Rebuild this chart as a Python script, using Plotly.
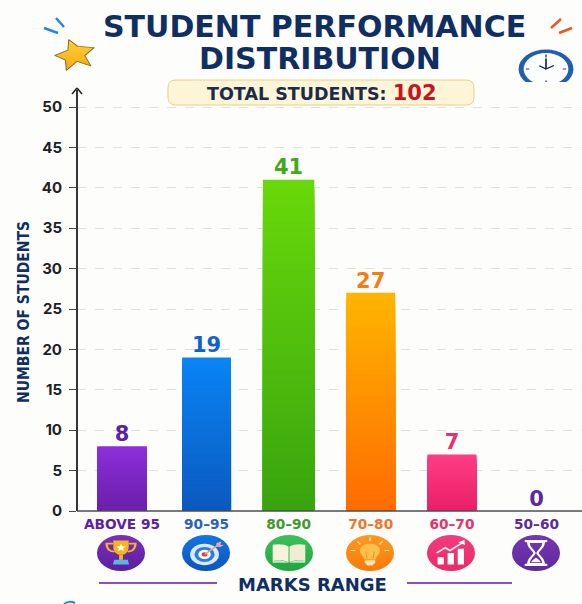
import base64
import plotly.graph_objects as go

categories = ["ABOVE 95", "90–95", "80–90", "70–80", "60–70", "50–60"]
counts = [8, 19, 41, 27, 7, 0]
y_ticks = [0, 5, 10, 15, 20, 25, 30, 35, 40, 45, 50]
x_positions = [0, 1.02, 2.01, 3.0, 3.98, 5.0]
label_colors = ["#5b21a6", "#2a62c0", "#3d9a2b", "#f5742a", "#ec2f6b", "#5b2a9e"]
value_colors = ["#5b21a6", "#0f62c8", "#43a81a", "#f57c12", "#ec2f6b", "#5b2a9e"]
top_colors = ["#8b2fdc", "#0a84f5", "#68d80a", "#ffb400", "#ff3d84", "#7a35c0"]
bottom_colors = ["#6a1fa8", "#0b58bd", "#38a30f", "#ff6a00", "#e81f68", "#5b2a9e"]
bar_widths = [0.60, 0.59, 0.62, 0.59, 0.59, 0.6]

W, H = 582, 604
NAVY = "#0f2f63"
FONT = "DejaVu Sans"
X0_PX, X1_PX = 77, 582
Y0_PX, YTOP_PX = 511, 90
PX_PER_CAT, CAT0_PX = 82.9, 122
PX_PER_UNIT = 8.08


def hexmix(a, b, t):
    pa = [int(a[i:i + 2], 16) for i in (1, 3, 5)]
    pb = [int(b[i:i + 2], 16) for i in (1, 3, 5)]
    return "#" + "".join(f"{round(p + (q - p) * t):02x}" for p, q in zip(pa, pb))


def px(x):
    return x / W


def py(y):
    return 1 - y / H


def svg(body, vb=100):
    s = f'<svg xmlns="http://www.w3.org/2000/svg" viewBox="0 0 {vb} {vb}" preserveAspectRatio="none">{body}</svg>'
    return "data:image/svg+xml;base64," + base64.b64encode(s.encode()).decode()


def grad_circle(c1, c2, inner):
    return svg(
        f'<defs><linearGradient id="g" x1="0" y1="0" x2="0" y2="1"><stop offset="0" stop-color="{c1}"/>'
        f'<stop offset="1" stop-color="{c2}"/></linearGradient></defs>'
        f'<ellipse cx="50" cy="50" rx="50" ry="50" fill="url(#g)"/>{inner}'
    )


trophy = ('<path d="M34 15h32v18c0 14-7 22-16 22s-16-8-16-22z" fill="#f7b51d"/>'
          '<path d="M34 24H20c0 14 7 21 16 22M66 24h14c0 14-7 21-16 22" fill="none" stroke="#f7b51d" stroke-width="5"/>'
          '<path d="M50 24l3 8h7l-6 5 3 8-7-5-7 5 3-8-6-5h7z" fill="#fff"/>'
          '<path d="M46 55h8v14h-8z" fill="#f7b51d"/><path d="M36 69h28l3 13H33z" fill="#58b6e8"/>')
target = ('<circle cx="47" cy="54" r="30" fill="#dbe9fb"/><circle cx="47" cy="54" r="21" fill="#2a7de0"/>'
          '<circle cx="47" cy="54" r="13" fill="#fff"/><circle cx="47" cy="54" r="6" fill="#e2343c"/>'
          '<path d="M47 54L76 27" stroke="#e8a08a" stroke-width="4"/><path d="M72 22l10-4-2 9 7 1-8 6-8-3z" fill="#f3a58d"/>')
book = ('<path d="M16 27c12-3 25-2 33 5v44c-8-6-21-7-33-4z" fill="#f8f4dc"/>'
        '<path d="M84 27c-12-3-25-2-33 5v44c8-6 21-7 33-4z" fill="#f0edd0"/>'
        '<path d="M16 72c12-3 25-2 34 6 9-8 22-9 34-6v5H16z" fill="#bfe8cc"/>')
bulb = ('<path d="M50 24c-13 0-21 9-21 20 0 9 7 13 9 24h24c2-11 9-15 9-24 0-11-8-20-21-20z" fill="#fdc04a"/>'
        '<path d="M44 66L41 46M56 66L59 46" stroke="#f28a12" stroke-width="2"/>'
        '<path d="M39 70h22v7l-6 8H45l-6-8z" fill="#fbe3b0"/>'
        '<path d="M50 7v10M24 18l6 8M76 18l-6 8M10 43h10M80 43h10" stroke="#fde3b3" stroke-width="3"/>')
chart = ('<path d="M22 62h13v20H22zM43 50h13v32H43zM64 38h13v44H64z" fill="#fff"/>'
         '<path d="M20 50l18-15 10 8 24-20" fill="none" stroke="#fff" stroke-width="4"/>'
         '<path d="M78 13l1 15-14-7z" fill="#fff"/>')
hourglass = ('<path d="M29 17h42M29 83h42" stroke="#fff" stroke-width="6" stroke-linecap="round"/>'
             '<path d="M34 20c0 16 10 20 13 30-3 10-13 14-13 30h32c0-16-10-20-13-30 3-10 13-14 13-30z" fill="none" stroke="#fff" stroke-width="5"/>'
             '<path d="M40 76c2-7 7-10 10-13 3 3 8 6 10 13z" fill="#fff"/>')
icons = [
    grad_circle("#7c2fbe", "#5a1f9c", trophy),
    grad_circle("#1176e6", "#0b55b8", target),
    grad_circle("#3cc15a", "#22a53e", book),
    grad_circle("#ff9a1f", "#f57a0a", bulb),
    grad_circle("#f23d7d", "#ea2a68", chart),
    grad_circle("#7436b4", "#5e2a9c", hourglass),
]
icon_cx = [121, 206, 289, 370, 451, 536]

star = svg('<defs><linearGradient id="s" x1="0" y1="0" x2="0" y2="1"><stop offset="0" stop-color="#ffd23a"/>'
           '<stop offset="1" stop-color="#f5a80f"/></linearGradient></defs>'
           '<path d="M36 2L58 23L98 27L75 52L90 84L56 70L30 98L28 66L2 51L34 35Z" fill="url(#s)" stroke="#8a6a20" stroke-width="2.5" stroke-linejoin="round"/>')
clock = svg('<circle cx="50" cy="50" r="49" fill="#1f5fae"/><circle cx="50" cy="50" r="40" fill="#fbfdff"/>'
            '<path d="M50 24v26l14-9M50 50l-12-8" stroke="#1c2b44" stroke-width="3" fill="none"/>'
            '<path d="M50 14v7M50 79v7M14 50h6M80 50h6" stroke="#33445f" stroke-width="2.5"/>')

fig = go.Figure()

# Gradient: nested overlaid bars from full height to nearly zero, each from the data values.
N = 40
for i in range(N):
    t = i / N
    fig.add_bar(
        x=x_positions,
        y=[c * (1 - t) for c in counts],
        width=bar_widths,
        marker=dict(color=[hexmix(a, b, t) for a, b in zip(top_colors, bottom_colors)], line_width=0),
        hoverinfo="skip",
        showlegend=False,
    )

fig.add_scatter(
    x=x_positions,
    y=counts,
    mode="text",
    text=[str(c) for c in counts],
    textposition="top center",
    textfont=dict(family=FONT, size=21, color=value_colors, weight=700),
    showlegend=False,
    cliponaxis=False,
)

images = [dict(source=s, xref="paper", yref="paper", x=px(cx - 24), y=py(535), sizex=48 / W, sizey=36 / H,
               sizing="stretch", xanchor="left", yanchor="top", layer="above")
          for s, cx in zip(icons, icon_cx)]
images.append(dict(source=star, xref="paper", yref="paper", x=px(54), y=py(39), sizex=41 / W, sizey=32 / H,
                   sizing="stretch", xanchor="left", yanchor="top", layer="above"))
images.append(dict(source=clock, xref="paper", yref="paper", x=px(518), y=py(49), sizex=56 / W, sizey=40 / H,
                   sizing="stretch", xanchor="left", yanchor="top", layer="below"))


def line(x0, y0, x1, y1, color, width, dash="solid"):
    return dict(type="line", xref="paper", yref="paper", x0=px(x0), y0=py(y0), x1=px(x1), y1=py(y1),
                line=dict(color=color, width=width, dash=dash), layer="above")


def pill(x0, y0, x1, y1, r, fill, edge):
    X0, X1, Y0, Y1 = px(x0), px(x1), py(y0), py(y1)
    rx, ry = r / W, r / H
    p = (f"M{X0 + rx},{Y0} L{X1 - rx},{Y0} Q{X1},{Y0} {X1},{Y0 - ry} L{X1},{Y1 + ry} Q{X1},{Y1} {X1 - rx},{Y1} "
         f"L{X0 + rx},{Y1} Q{X0},{Y1} {X0},{Y1 + ry} L{X0},{Y0 - ry} Q{X0},{Y0} {X0 + rx},{Y0} Z")
    return dict(type="path", xref="paper", yref="paper", path=p, fillcolor=fill, line=dict(color=edge, width=1),
                layer="above")


shapes = [
    dict(type="rect", xref="paper", yref="paper", x0=px(510), x1=1, y0=py(93), y1=py(82),
         fillcolor="#fdfdfb", line_width=0, layer="above"),
    line(44, 28, 58, 33, "#1e88e5", 2.5),
    line(56, 18, 64, 27, "#1e88e5", 2.5),
    line(551, 28, 561, 19, "#f4511e", 2.5),
    line(559, 33, 572, 28, "#f4511e", 2.5),
    pill(168, 80, 474, 105, 8, "#fdf5d8", "#edcf80"),
    line(99, 583, 217, 583, "#8a4fc0", 2),
    line(407, 583, 512, 583, "#8a4fc0", 2),
    line(X0_PX, Y0_PX, X0_PX, YTOP_PX, "#33363b", 2),
    line(X0_PX, Y0_PX, X1_PX, Y0_PX, "#4a4d52", 1.5),
    line(72, 94, 77, 88, "#222", 1.5),
    line(82, 94, 77, 88, "#222", 1.5),
    dict(type="path", xref="paper", yref="paper",
         path=f"M{px(64)},{py(604)} Q{px(69)},{py(600)} {px(75)},{py(603)}",
         line=dict(color="#1e88e5", width=2), layer="above"),
]

annotations = [
    dict(text="STUDENT PERFORMANCE", xref="paper", yref="paper", x=px(314), y=py(27), xanchor="center",
         yanchor="middle", showarrow=False, font=dict(family=FONT, size=30, color=NAVY, weight=700)),
    dict(text="DISTRIBUTION", xref="paper", yref="paper", x=px(320), y=py(58), xanchor="center",
         yanchor="middle", showarrow=False, font=dict(family=FONT, size=30, color=NAVY, weight=700)),
    dict(text='<span style="color:#1c2b4a">TOTAL STUDENTS:</span> <span style="color:#c4161c;font-size:21px">102</span>',
         xref="paper", yref="paper", x=px(322), y=py(93), xanchor="center", yanchor="middle", showarrow=False,
         font=dict(family=FONT, size=17.5, weight=700)),
    dict(text="MARKS RANGE", xref="paper", yref="paper", x=px(312), y=py(584), xanchor="center", yanchor="middle",
         showarrow=False, font=dict(family=FONT, size=18, color=NAVY, weight=700)),
    dict(text="NUMBER OF STUDENTS", xref="paper", yref="paper", x=px(24), y=py(312), xanchor="center",
         yanchor="middle", textangle=-90, showarrow=False,
         font=dict(family="DejaVu Sans Condensed, Roboto", size=15.5, color=NAVY, weight=700)),
]

fig.update_layout(
    width=W, height=H,
    margin=dict(l=0, r=0, t=0, b=0),
    paper_bgcolor="#fdfdfb",
    plot_bgcolor="rgba(0,0,0,0)",
    barmode="overlay",
    xaxis=dict(
        domain=[px(X0_PX), px(X1_PX)],
        range=[(X0_PX - CAT0_PX) / PX_PER_CAT, (X1_PX - CAT0_PX) / PX_PER_CAT],
        automargin=False,
        tickmode="array",
        tickvals=x_positions,
        ticktext=[f'<span style="color:{c}">{n}</span>' for n, c in zip(categories, label_colors)],
        tickfont=dict(family=FONT, size=13.7, weight=700),
        ticks="", ticklabelstandoff=3,
        showgrid=False, zeroline=False, showline=False,
    ),
    yaxis=dict(
        domain=[py(Y0_PX), py(YTOP_PX)],
        range=[0, (Y0_PX - YTOP_PX) / PX_PER_UNIT],
        automargin=False,
        tickmode="array",
        tickvals=y_ticks,
        ticktext=[str(t) for t in y_ticks],
        tickfont=dict(family="Inter", size=15, color="#1d1f24", weight=700),
        ticks="outside", ticklen=7, tickcolor="#44474c", ticklabelstandoff=4,
        showgrid=True, gridcolor="#e0e0dc", griddash="dash", gridwidth=1,
        zeroline=False, showline=False,
    ),
    images=images,
    shapes=shapes,
    annotations=annotations,
    showlegend=False,
)

fig.write_html("out.html", config={"displayModeBar": False},
               post_script="document.body.style.margin='0';document.documentElement.style.overflow='hidden';")
